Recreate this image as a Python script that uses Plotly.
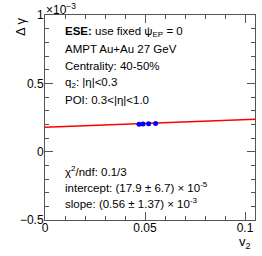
import plotly.graph_objects as go

# data (y in units of 1e-3)
v2 = [0.0470, 0.0490, 0.0518, 0.0553]
dgamma = [0.201, 0.203, 0.205, 0.207]
dgamma_err = [0.004, 0.004, 0.004, 0.004]

fit_intercept = 0.179   # 17.9e-5 in units of 1e-3
fit_slope = 0.56        # 0.56e-3 / v2 in units of 1e-3
fit_x = [0.0, 0.105]
fit_y = [fit_intercept + fit_slope * x for x in fit_x]

y_tickvals = [-0.5, 0, 0.5, 1.0]
y_ticktext = ["\u22120.5", "0", "0.5", ""]
x_tickvals = [0, 0.05, 0.1]
x_ticktext = ["0", "0.05", "0.1"]

top_lines = [
    "<b>ESE:</b> use fixed \u03c8<sub>EP</sub> = 0",
    "AMPT Au+Au 27 GeV",
    "Centrality: 40-50%",
    "q<sub>2</sub>: |\u03b7|&lt;0.3",
    "POI: 0.3&lt;|\u03b7|&lt;1.0",
]
bottom_lines = [
    "\u03c7<sup>2</sup>/ndf: 0.1/3",
    "intercept: (17.9 \u00b1 6.7) \u00d7 10<sup>-5</sup>",
    "slope: (0.56 \u00b1 1.37) \u00d7 10<sup>-3</sup>",
]

font = "Liberation Sans, Arial, Helvetica, sans-serif"
TXT = 11.5

fig = go.Figure()
fig.add_trace(go.Scatter(x=fit_x, y=fit_y, mode="lines",
                         line=dict(color="#ff0000", width=1.5), showlegend=False))
fig.add_trace(go.Scatter(x=v2, y=dgamma, mode="markers",
                         marker=dict(color="#0000ff", size=5, symbol="circle"),
                         error_y=dict(type="data", array=dgamma_err, color="#0000ff",
                                      thickness=1, width=0),
                         showlegend=False))

W, H = 262, 256
L, R, T, B = 45, 7, 15, 36
PW, PH = W - L - R, H - T - B

def px(xp):
    return (xp - L) / PW

def py(yp):
    return 1 - (yp - T) / PH

axis_common = dict(ticks="inside", ticklen=8, tickcolor="#555", showline=True,
                   linecolor="#555", linewidth=1, mirror="ticks", showgrid=False,
                   zeroline=False, tickfont=dict(size=12))

fig.update_layout(
    width=W, height=H,
    margin=dict(l=L, r=R, t=T, b=B),
    paper_bgcolor="white", plot_bgcolor="white",
    font=dict(family=font, size=12, color="black"),
    xaxis=dict(range=[0, 0.105], tickvals=x_tickvals, ticktext=x_ticktext,
               ticklabelstandoff=-3,
               minor=dict(dtick=0.01, ticks="inside", ticklen=4, tickcolor="#555",
                          showgrid=False),
               **axis_common),
    yaxis=dict(range=[-0.5, 1.0], tickvals=y_tickvals, ticktext=y_ticktext,
               ticklabelstandoff=-2,
               minor=dict(dtick=0.1, ticks="inside", ticklen=4, tickcolor="#555",
                          showgrid=False),
               **axis_common),
)

ann = []
for i, t in enumerate(top_lines):
    ann.append(dict(text=t, xref="paper", yref="paper", x=px(63),
                    y=py(32 + 17 * i), xanchor="left",
                    yanchor="middle", showarrow=False, font=dict(size=TXT)))
for i, t in enumerate(bottom_lines):
    ann.append(dict(text=t, xref="paper", yref="paper", x=px(63),
                    y=py(171 + 16 * i), xanchor="left",
                    yanchor="middle", showarrow=False, font=dict(size=TXT)))
ann.append(dict(text="1", xref="paper", yref="paper",
                x=px(46), y=py(15), xanchor="right", yanchor="middle",
                showarrow=False, font=dict(size=12)))
ann.append(dict(text="\u00d710<sup>\u22123</sup>", xref="paper", yref="paper",
                x=px(44), y=py(9), xanchor="left", yanchor="middle",
                showarrow=False, font=dict(size=12)))
ann.append(dict(text="\u0394 \u03b3", xref="paper", yref="paper", textangle=-90,
                x=px(20), y=py(27), xanchor="center", yanchor="middle",
                showarrow=False, font=dict(size=13)))
ann.append(dict(text="v<sub>2</sub>", xref="paper", yref="paper",
                x=px(253), y=py(242), xanchor="right", yanchor="middle",
                showarrow=False, font=dict(size=13)))
fig.update_layout(annotations=ann)

fig.write_html("out.html", config={"displayModeBar": False},
               post_script="document.body.style.margin='0';")
